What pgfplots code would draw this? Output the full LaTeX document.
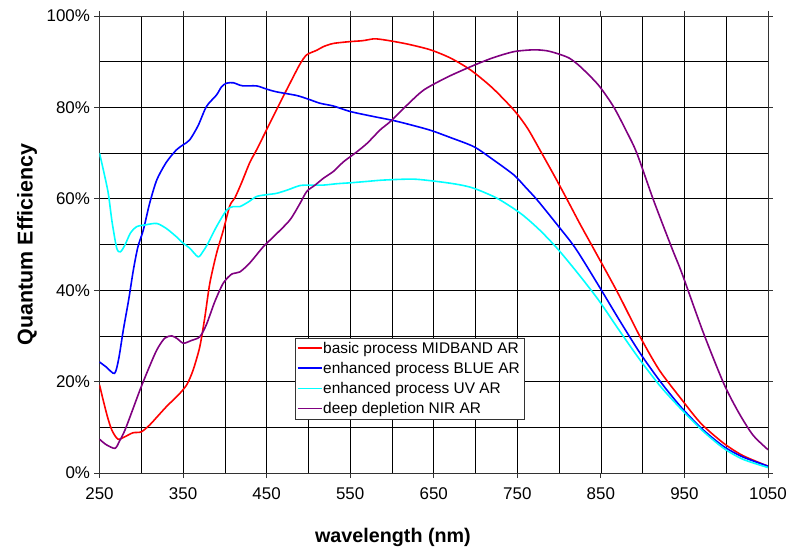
\documentclass[border=0pt]{standalone}
\usepackage{pgfplots}
\pgfplotsset{compat=1.18}
\usepackage{fontspec}
\setmainfont{Liberation Sans}
\definecolor{qred}{RGB}{255,0,0}
\definecolor{qblue}{RGB}{0,0,255}
\definecolor{qcyan}{RGB}{0,255,255}
\definecolor{qpurple}{RGB}{128,0,128}
\begin{document}
\begin{tikzpicture}
\useasboundingbox (-99.5bp,-74bp) rectangle (695.5bp,473bp);
\begin{axis}[
  scale only axis,
  width=668.5bp, height=457bp,
  at={(0,0)}, anchor=south west,
  xmin=250, xmax=1050, ymin=0, ymax=100,
  xtick={250,350,...,1050},
  minor xtick={300,400,...,1000},
  ytick={0,20,...,100},
  minor ytick={10,30,...,90},
  grid=both,
  major grid style={black, line width=0.6bp},
  minor grid style={black, line width=0.6bp},
  tick align=outside,
  major tick length=5bp,
  minor tick length=0bp,
  tick style={black!80, line width=0.8bp},
  axis line style={black!80, line width=0.9bp},
  /pgf/number format/assume math mode=true,
  /pgf/number format/1000 sep={},
  ticklabel style={font=\fontsize{17}{20}\selectfont},
  yticklabel={\pgfmathprintnumber{\tick}\%},
  xticklabel style={yshift=-6bp},
  yticklabel style={xshift=-1bp},
  xlabel={wavelength (nm)},
  ylabel={Quantum Efficiency},
  xlabel style={font=\fontsize{19.8}{23}\selectfont\bfseries, at={(axis description cs:0.439,-0.142)}, anchor=center},
  ylabel style={font=\fontsize{21.5}{24}\selectfont\bfseries, at={(axis description cs:-0.1085,0.5)}, anchor=center, rotate=0},
  legend style={at={(rel axis cs:0.2924,0.2954)}, anchor=north west, draw=black!80, fill=white,
    font=\fontsize{15.5}{19}\selectfont, inner sep=2.5bp, row sep=4.4bp,
    nodes={inner sep=1.5bp}},
  legend cell align=left,
  legend image code/.code={\node[#1, inner sep=0pt, outer sep=0pt, anchor=west] at (0bp,0bp) {\rule[-0.9bp]{24bp}{1.8bp}};},
  every axis plot/.append style={line width=1.6bp, smooth, tension=0.45},
]
\addplot[qred] coordinates {(250,19.3)(255,15.5)(260,12)(265,9.3)(272,7.4)(280,7.9)(290,8.8)(300,9.0)(310,10.5)(320,12.5)(330,14.5)(340,16.3)(348,17.8)(355,19.5)(362,22.5)(370,27.6)(376,34)(382,41.5)(390,48)(398,53)(406,58.5)(412,60.2)(420,63.5)(430,68)(438,70.7)(454,76.6)(466,81)(478,85.3)(490,89.5)(498,91.5)(510,92.5)(518,93.3)(530,94)(550,94.4)(565,94.6)(578,95)(586,94.9)(600,94.5)(620,93.8)(646,92.6)(670,90.8)(694,88.2)(720,84.3)(746,79.4)(762,75.5)(777,70.7)(795,64.8)(810,59.7)(825,54.5)(841,49.2)(870,39.5)(897,29.8)(920,22.5)(947,16)(970,10.8)(997,6.5)(1020,3.8)(1050,1.5)};
\addlegendentry{basic process MIDBAND AR}
\addplot[qblue] coordinates {(250,24.3)(258,23.2)(268,21.8)(273,25)(278.5,31.3)(285,38)(290.5,44.4)(296,49.5)(302.5,53.2)(310,59)(318.5,64.1)(330,68)(342,70.7)(350,71.8)(358,72.9)(368,76)(378,80.2)(390,82.7)(396,84.5)(402,85.3)(410,85.4)(416,85)(422,84.7)(438,84.7)(450,84)(462,83.4)(486,82.6)(500,81.8)(514,80.9)(530,80.3)(550,79.1)(578,78)(600,77.2)(620,76.3)(646,75)(670,73.4)(698,71.4)(720,68.7)(746,65.2)(760,62.5)(774,59.7)(797,54.5)(819.5,49.2)(847,41.1)(872,33.5)(897,26.2)(922,19.8)(947,14.2)(972,9.5)(997,5.8)(1020,3.5)(1050,1.5)};
\addlegendentry{enhanced process BLUE AR}
\addplot[qcyan] coordinates {(250,70)(255,66)(260.5,61.2)(265,55)(270.6,49.2)(275,48.4)(280.5,49.9)(287,52.5)(294.5,53.9)(305,54.3)(318.5,54.6)(330,53.5)(342,51.7)(350,50.3)(358,49.2)(368,47.3)(374,48.5)(380,50.3)(390,53.9)(402,57.5)(410,58.3)(418,58.3)(428,59.3)(438,60.5)(450,60.9)(462,61.2)(476,62)(490,62.9)(504,63)(518,63)(534,63.3)(550,63.5)(570,63.8)(590,64.1)(626,64.3)(658,63.7)(680,63.1)(698,62.3)(726,60.1)(754,56.8)(776,53.3)(797.5,49.2)(822,43.8)(847,37.9)(872,31.2)(897,24.7)(922,18.8)(947,13.8)(972,9.2)(997,5.4)(1020,3.0)(1050,1.2)};
\addlegendentry{enhanced process UV AR}
\addplot[qpurple] coordinates {(250,7.4)(258,6.2)(268.6,5.4)(274,7)(280.5,9.4)(290,14)(298.5,18.2)(308,22.5)(318.5,26.9)(328,29.5)(336.5,30)(343,29.4)(350.4,28.4)(360,29)(370,29.8)(378,32.5)(388,37.5)(398,41.5)(408,43.5)(418,44)(430,46)(446,49.5)(460,52)(478,55.4)(490,59)(498,61.6)(508,63)(518,64.5)(530,66)(542,68.1)(556,70)(570,72.1)(586,75.1)(598,76.9)(618,80.5)(638,83.8)(666,86.6)(694,88.9)(720,90.8)(746,92.2)(769.5,92.6)(785,92.4)(797.5,91.8)(812,90.8)(825.5,88.9)(847,84.9)(865,80.2)(880,75)(893,70)(913,59.7)(935,49.2)(947,43.7)(972,31)(997,19.6)(1015,13.2)(1032,8.3)(1050,5.1)};
\addlegendentry{deep depletion NIR AR}
\end{axis}
\end{tikzpicture}
\end{document}
